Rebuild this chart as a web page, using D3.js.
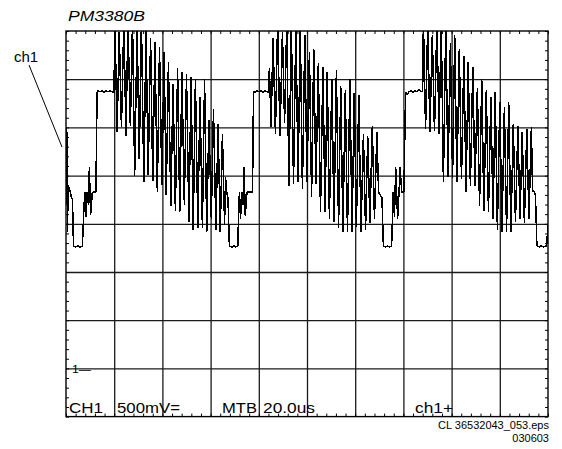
<!DOCTYPE html>
<html>
<head>
<meta charset="utf-8">
<script src="https://cdn.jsdelivr.net/npm/d3@7"></script>
<style>
  html, body { margin: 0; padding: 0; background: #fff; }
  svg { display: block; }
  text { font-family: "Liberation Sans", Arial, sans-serif; fill: #000; }
</style>
</head>
<body>
<svg id="scope" width="562" height="449"></svg>
<script>
// Oscilloscope screen: CH1 at 500 mV/div, main timebase 20.0 us/div.
// Time in microseconds from the left edge, level in volts above the "1" ground marker.

const timeDivUs = 20;     // MTB 20.0us
const voltDiv = 0.5;      // CH1 500mV
const timeRange = [0, 200];
const voltRange = [-0.5, 3.5];

// Three video lines across the screen: sync, burst, flat bar, chroma-loaded ramp.
const traceLine1 = [
  [0.0, 2.45], [0.3, 2.50], [0.6, 1.42], [0.9, 1.90], [1.5, 1.86], [2.1, 1.79], [2.7, 1.75],
  [3.1, 1.27], [4.1, 1.26], [5.0, 1.27], [5.8, 1.26], [6.8, 1.27],
  [7.5, 1.70], [7.9, 1.83], [8.3, 1.57], [8.8, 1.83], [9.3, 1.70], [9.7, 2.09],
  [10.2, 1.59], [10.9, 1.82], [11.6, 1.83], [12.4, 1.83],
  [12.9, 2.86], [13.3, 2.88], [14.1, 2.87], [14.9, 2.88], [15.8, 2.86], [16.6, 2.88],
  [17.4, 2.87], [18.3, 2.88], [19.1, 2.87], [19.9, 2.86],
  [20.3, 3.60], [21.2, 2.45], [22.1, 3.49], [23.0, 2.50], [24.0, 3.60], [24.9, 2.41],
  [25.7, 3.60], [26.7, 2.51], [27.6, 3.60], [28.5, 2.00], [29.5, 3.56], [30.4, 2.17],
  [31.3, 3.60], [32.3, 1.93], [33.2, 3.52], [34.1, 2.01], [35.1, 3.43], [36.0, 1.94],
  [36.9, 3.39], [37.9, 1.83], [38.8, 3.33], [39.8, 1.90], [40.7, 3.28], [41.6, 1.80],
  [42.5, 3.18], [43.5, 1.68], [44.4, 2.95], [45.4, 1.63], [46.3, 3.12], [47.2, 1.62],
  [48.1, 3.07], [49.1, 1.70], [50.0, 3.05], [51.0, 1.52], [51.9, 3.02], [52.8, 1.44],
  [53.7, 3.00], [54.7, 1.46], [55.6, 2.82], [56.6, 1.46], [57.5, 3.00], [58.4, 1.41],
  [59.3, 2.58], [60.3, 1.55], [61.2, 2.69], [62.2, 1.44], [63.1, 2.53], [64.0, 1.41],
  [64.9, 2.43], [65.8, 1.49], [66.2, 1.98], [66.7, 1.83], [67.2, 1.77],
  [67.8, 1.27], [68.9, 1.26], [69.7, 1.27], [70.5, 1.26], [71.3, 1.27]
];

const traceLine2 = [
  [71.7, 1.72], [72.0, 1.83], [72.4, 1.55], [73.0, 1.83], [73.4, 1.70], [73.9, 2.09],
  [74.4, 1.58], [75.1, 1.83], [76.3, 1.83], [77.4, 1.83],
  [77.8, 2.87], [78.4, 2.86], [79.3, 2.88], [80.1, 2.87], [80.9, 2.88], [81.7, 2.86],
  [82.6, 2.88], [83.4, 2.87], [84.0, 2.86],
  [84.4, 3.12], [85.1, 2.50], [85.9, 3.43], [86.9, 2.43], [87.8, 3.60], [88.8, 2.41],
  [89.8, 3.49], [90.7, 2.55], [91.6, 3.60], [92.5, 1.89], [93.5, 3.60], [94.4, 1.91],
  [95.4, 3.60], [96.3, 1.93], [97.2, 3.56], [98.1, 1.86], [99.1, 3.46], [100.0, 1.93],
  [101.0, 3.28], [101.9, 1.78], [102.8, 3.31], [103.7, 1.91], [104.7, 3.17], [105.6, 1.62],
  [106.6, 3.13], [107.5, 1.62], [108.4, 3.07], [109.3, 1.55], [110.3, 3.00], [111.2, 1.52],
  [112.2, 3.10], [113.1, 1.46], [114.0, 2.93], [114.9, 1.42], [115.9, 2.89], [116.8, 1.41],
  [117.8, 3.00], [118.7, 1.41], [119.6, 2.86], [120.5, 1.47], [121.5, 2.84], [122.4, 1.41],
  [123.4, 2.43], [124.3, 1.44], [125.2, 2.41], [126.1, 1.51], [127.1, 2.51], [128.0, 1.55],
  [129.0, 2.45], [129.7, 1.83], [130.3, 1.80], [131.1, 1.77],
  [131.7, 1.27], [132.6, 1.26], [133.4, 1.27], [134.2, 1.26], [135.1, 1.27]
];

const traceLine3 = [
  [135.8, 1.83], [136.3, 1.57], [136.8, 2.09], [137.6, 1.55], [138.2, 1.83], [138.6, 2.09],
  [139.3, 1.83], [140.2, 1.83],
  [140.9, 2.87], [141.5, 2.84], [142.3, 2.87], [143.2, 2.88], [144.0, 2.86], [144.8, 2.88],
  [145.6, 2.87], [146.5, 2.89], [147.3, 2.87], [148.0, 2.88],
  [148.3, 3.60], [149.2, 2.48], [150.1, 3.60], [151.0, 2.45], [152.0, 3.46], [152.9, 2.46],
  [153.9, 3.60], [154.8, 2.43], [155.7, 3.60], [156.6, 1.93], [157.6, 3.60], [158.5, 1.99],
  [159.5, 3.38], [160.4, 1.98], [161.3, 3.46], [162.2, 1.93], [163.2, 3.31], [164.1, 1.96],
  [165.1, 3.24], [166.0, 1.83], [166.9, 3.18], [167.8, 1.89], [168.8, 3.13], [169.7, 1.89],
  [170.7, 2.91], [171.6, 1.68], [172.5, 3.00], [173.4, 1.63], [174.4, 2.89], [175.3, 1.62],
  [176.3, 2.82], [177.2, 1.55], [178.1, 2.87], [179.0, 1.44], [180.0, 2.76], [180.9, 1.42],
  [181.9, 2.71], [182.8, 1.42], [183.7, 2.76], [184.6, 1.41], [185.6, 2.53], [186.5, 1.52],
  [187.5, 2.51], [188.4, 1.55], [189.3, 2.45], [190.2, 1.51], [191.2, 2.48], [192.1, 1.55],
  [193.1, 2.50], [193.6, 1.83], [194.2, 1.84], [194.8, 1.79],
  [195.4, 1.27], [196.3, 1.26], [197.1, 1.27], [198.0, 1.26], [199.4, 1.27], [200.0, 1.49]
];

// Graticule: major divisions and 5 minor ticks per division along the border.
const timeMajor = d3.range(0, 200 + 1e-6, timeDivUs);
const voltMajor = d3.range(-0.5, 3.5 + 1e-6, voltDiv);
const timeMinor = d3.range(0, 200 + 1e-6, timeDivUs / 5);
const voltMinor = d3.range(-0.5, 3.5 + 1e-6, voltDiv / 5);

// Screen annotations.
const modelLabel = "PM3380B";
const channelTag = "ch1";
const groundMarker = "1\u2014";
const readouts = [
  { text: "CH1", x: 69, w: 34 },
  { text: "500mV=", x: 117, w: 63 },
  { text: "MTB", x: 222, w: 35 },
  { text: "20.0us", x: 263, w: 52 },
  { text: "ch1+", x: 415, w: 38 }
];
const footer = ["CL 36532043_053.eps", "030603"];

const svg = d3.select("#scope");
const scrLeft = 66, scrRight = 548, scrTop = 31, scrBottom = 416.6;

const x = d3.scaleLinear().domain(timeRange).range([scrLeft, scrRight]);
const y = d3.scaleLinear().domain(voltRange).range([scrBottom, scrTop]);

const grid = svg.append("g").attr("class", "grid");

// Major grid lines
grid.append("g")
  .attr("transform", `translate(0,${scrBottom})`)
  .call(d3.axisBottom(x).tickValues(timeMajor.slice(1, -1)).tickSize(-(scrBottom - scrTop)).tickFormat(""))
  .call(g => g.select(".domain").remove())
  .call(g => g.selectAll("line").attr("stroke", "#1a1a1a").attr("stroke-width", 1.3));

grid.append("g")
  .attr("transform", `translate(${scrLeft},0)`)
  .call(d3.axisLeft(y).tickValues(voltMajor.slice(1, -1)).tickSize(-(scrRight - scrLeft)).tickFormat(""))
  .call(g => g.select(".domain").remove())
  .call(g => g.selectAll("line").attr("stroke", "#1a1a1a").attr("stroke-width", 1.3));

// Minor ticks pointing inward from each border
const tickLen = 3;
const minorStyle = g => {
  g.select(".domain").remove();
  g.selectAll("line").attr("stroke", "#000").attr("stroke-width", 1);
};
grid.append("g").attr("transform", `translate(0,${scrTop})`)
  .call(d3.axisBottom(x).tickValues(timeMinor).tickSize(tickLen).tickFormat("")).call(minorStyle);
grid.append("g").attr("transform", `translate(0,${scrBottom})`)
  .call(d3.axisTop(x).tickValues(timeMinor).tickSize(tickLen).tickFormat("")).call(minorStyle);
grid.append("g").attr("transform", `translate(${scrLeft},0)`)
  .call(d3.axisRight(y).tickValues(voltMinor).tickSize(tickLen).tickFormat("")).call(minorStyle);
grid.append("g").attr("transform", `translate(${scrRight},0)`)
  .call(d3.axisLeft(y).tickValues(voltMinor).tickSize(tickLen).tickFormat("")).call(minorStyle);

// Screen border
svg.append("rect")
  .attr("x", scrLeft).attr("y", scrTop)
  .attr("width", scrRight - scrLeft).attr("height", scrBottom - scrTop)
  .attr("fill", "none").attr("stroke", "#000").attr("stroke-width", 1.4);

// Trace, clipped to the screen
svg.append("clipPath").attr("id", "screen")
  .append("rect").attr("x", scrLeft).attr("y", scrTop)
  .attr("width", scrRight - scrLeft).attr("height", scrBottom - scrTop);

const trace = traceLine1.concat(traceLine2, traceLine3);
svg.append("path")
  .datum(trace)
  .attr("clip-path", "url(#screen)")
  .attr("fill", "none")
  .attr("stroke", "#000")
  .attr("stroke-width", 1.5)
  .attr("stroke-linejoin", "bevel")
  .attr("shape-rendering", "crispEdges")
  .attr("d", d3.line().x(d => x(d[0])).y(d => y(d[1])));

// Model name above the screen
svg.append("text")
  .attr("x", 68).attr("y", 21)
  .attr("font-size", 15).attr("font-style", "italic")
  .attr("textLength", 77).attr("lengthAdjust", "spacingAndGlyphs")
  .text(modelLabel);

// Channel tag with leader to the trace
svg.append("text")
  .attr("x", 14).attr("y", 62)
  .attr("font-size", 15)
  .text(channelTag);
svg.append("line")
  .attr("x1", 29).attr("y1", 65)
  .attr("x2", 62).attr("y2", 147)
  .attr("stroke", "#000").attr("stroke-width", 1);

// Ground level marker for channel 1
svg.append("text")
  .attr("x", 72).attr("y", y(0) + 5)
  .attr("font-size", 10)
  .attr("textLength", 19).attr("lengthAdjust", "spacingAndGlyphs")
  .text(groundMarker);

// Settings readout along the bottom of the screen
svg.append("g").selectAll("text")
  .data(readouts)
  .join("text")
  .attr("x", d => d.x).attr("y", 413)
  .attr("font-size", 14)
  .attr("textLength", d => d.w).attr("lengthAdjust", "spacingAndGlyphs")
  .text(d => d.text);

// File reference
svg.append("g").selectAll("text")
  .data(footer)
  .join("text")
  .attr("x", 549).attr("y", (d, i) => 429 + i * 13)
  .attr("text-anchor", "end")
  .attr("font-size", 11)
  .text(d => d);
</script>
</body>
</html>
